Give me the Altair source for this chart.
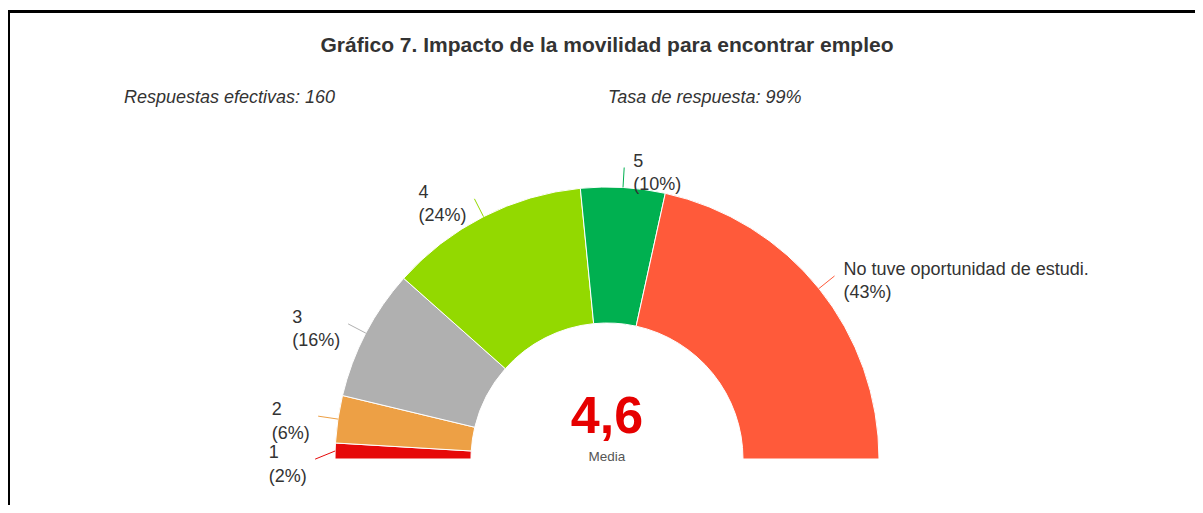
import math
import pandas as pd
import altair as alt

# ---- data ----
categories = ["1", "2", "3", "4", "5", "No tuve oportunidad de estudi."]
counts = [3, 9, 25, 38, 16, 69]
colors = ["#e60a0a", "#eda045", "#b0b0b0", "#93d900", "#00b050", "#ff5a3a"]
mean_text = "4,6"
mean_caption = "Media"
title_text = "Gráfico 7. Impacto de la movilidad para encontrar empleo"
left_note = "Respuestas efectivas: 160"
right_note = "Tasa de respuesta: 99%"

# ---- layout ----
W, H = 1187, 497
CX, CY = 599, 451          # donut centre inside the plot area
R_OUT, R_IN, R_LAB = 272, 136, 292
FONT = "Liberation Sans"
TXT = "#333333"

df = pd.DataFrame({"cat": categories, "count": counts, "idx": list(range(len(categories)))})
total = sum(counts)

xs = alt.Scale(domain=[-CX, W - CX], nice=False, zero=False)
ys = alt.Scale(domain=[-(H - CY), CY], nice=False, zero=False)
cs = alt.Scale(domain=categories, range=colors)

base = (
    alt.Chart(df)
    .transform_joinaggregate(total="sum(count)")
    .transform_window(c1="sum(count)", sort=[alt.SortField("idx")], frame=[None, 0])
    .transform_calculate(
        c0="datum.c1 - datum.count",
        alpha="PI * (datum.c1 - datum.count / 2) / datum.total",
        pct="round(100 * datum.count / datum.total)",
    )
    .transform_calculate(
        pl="'(' + datum.pct + '%)'",
        ex=f"-{R_OUT} * cos(datum.alpha)",
        ey=f"{R_OUT} * sin(datum.alpha)",
        ax=f"-{R_LAB} * cos(datum.alpha)",
        ay=f"{R_LAB} * sin(datum.alpha)",
    )
    .transform_calculate(
        label="datum.cat + '\\n' + datum.pl",
        side="datum.ax < 0 ? 'left' : 'right'",
    )
    .transform_window(
        window=[
            alt.WindowFieldDef(op="lead", field="ay", **{"as": "nextAy"}),
            alt.WindowFieldDef(op="lead", field="side", **{"as": "nextSide"}),
        ],
        sort=[alt.SortField("idx")],
    )
    .transform_calculate(
        cy="(datum.side == 'left' && datum.nextSide == 'left') ? min(datum.ay, datum.nextAy - 43) : datum.ay",
    )
    .transform_calculate(
        tx="datum.side == 'left' ? datum.ax - 8 - 9.6 * max(length(datum.cat), length(datum.pl)) : datum.ax + 9",
    )
)

arcs = base.mark_arc(radius=R_OUT, radius2=R_IN, stroke="white", strokeWidth=1).encode(
    x=alt.XDatum(0, scale=xs, axis=None),
    y=alt.YDatum(0, scale=ys, axis=None),
    theta=alt.Theta("c0:Q", scale=alt.Scale(domain=[0, total], range=[-math.pi / 2, math.pi / 2]), stack=None),
    theta2=alt.Theta2("c1:Q"),
    color=alt.Color("cat:N", scale=cs, legend=None),
)

leaders = base.mark_rule(strokeWidth=1).encode(
    x=alt.X("ex:Q", scale=xs, axis=None),
    y=alt.Y("ey:Q", scale=ys, axis=None),
    x2="ax:Q",
    y2="cy:Q",
    color=alt.Color("cat:N", scale=cs, legend=None),
)

labels = base.mark_text(
    font=FONT, fontSize=18, color=TXT, align="left", baseline="middle",
    lineBreak="\n", lineHeight=23.5, dy=-6,
).encode(
    x=alt.X("tx:Q", scale=xs, axis=None),
    y=alt.Y("cy:Q", scale=ys, axis=None),
    text="label:N",
)

ann = alt.Chart(pd.DataFrame({"k": [0]}))

mean_mark = ann.mark_text(
    font=FONT, fontSize=52, fontWeight="bold", color="#e60000", align="center", baseline="alphabetic", dy=-26
).encode(
    x=alt.XDatum(0, scale=xs, axis=None),
    y=alt.YDatum(0, scale=ys, axis=None),
    text=alt.value(mean_text),
)

mean_cap = ann.mark_text(
    font=FONT, fontSize=13.5, color="#555555", align="center", baseline="alphabetic", dy=2
).encode(
    x=alt.XDatum(0, scale=xs, axis=None),
    y=alt.YDatum(0, scale=ys, axis=None),
    text=alt.value(mean_caption),
)

title = ann.mark_text(
    font=FONT, fontSize=21, fontWeight="bold", color=TXT, align="center", baseline="middle"
).encode(
    x=alt.XDatum(0, scale=xs, axis=None),
    y=alt.value(38),
    text=alt.value(title_text),
)

note_left = ann.mark_text(
    font=FONT, fontSize=18, fontStyle="italic", color=TXT, align="left", baseline="middle"
).encode(x=alt.value(116), y=alt.value(90), text=alt.value(left_note))

note_right = ann.mark_text(
    font=FONT, fontSize=18, fontStyle="italic", color=TXT, align="left", baseline="middle"
).encode(x=alt.value(600), y=alt.value(90), text=alt.value(right_note))

border_left = ann.mark_rule(color="black", strokeWidth=3).encode(
    x=alt.value(0.5), y=alt.value(2), y2=alt.value(H)
)
border_top = ann.mark_rule(color="black", strokeWidth=3).encode(
    x=alt.value(0), x2=alt.value(W), y=alt.value(3.5)
)

chart = (
    alt.layer(arcs, leaders, labels, mean_mark, mean_cap, title, note_left, note_right, border_left, border_top)
    .properties(width=W, height=H, autosize=alt.AutoSizeParams(type="none"), padding=0, background="white")
    .configure_view(stroke=None)
)

chart.save("out.html", embed_options={"renderer": "svg", "actions": False})
